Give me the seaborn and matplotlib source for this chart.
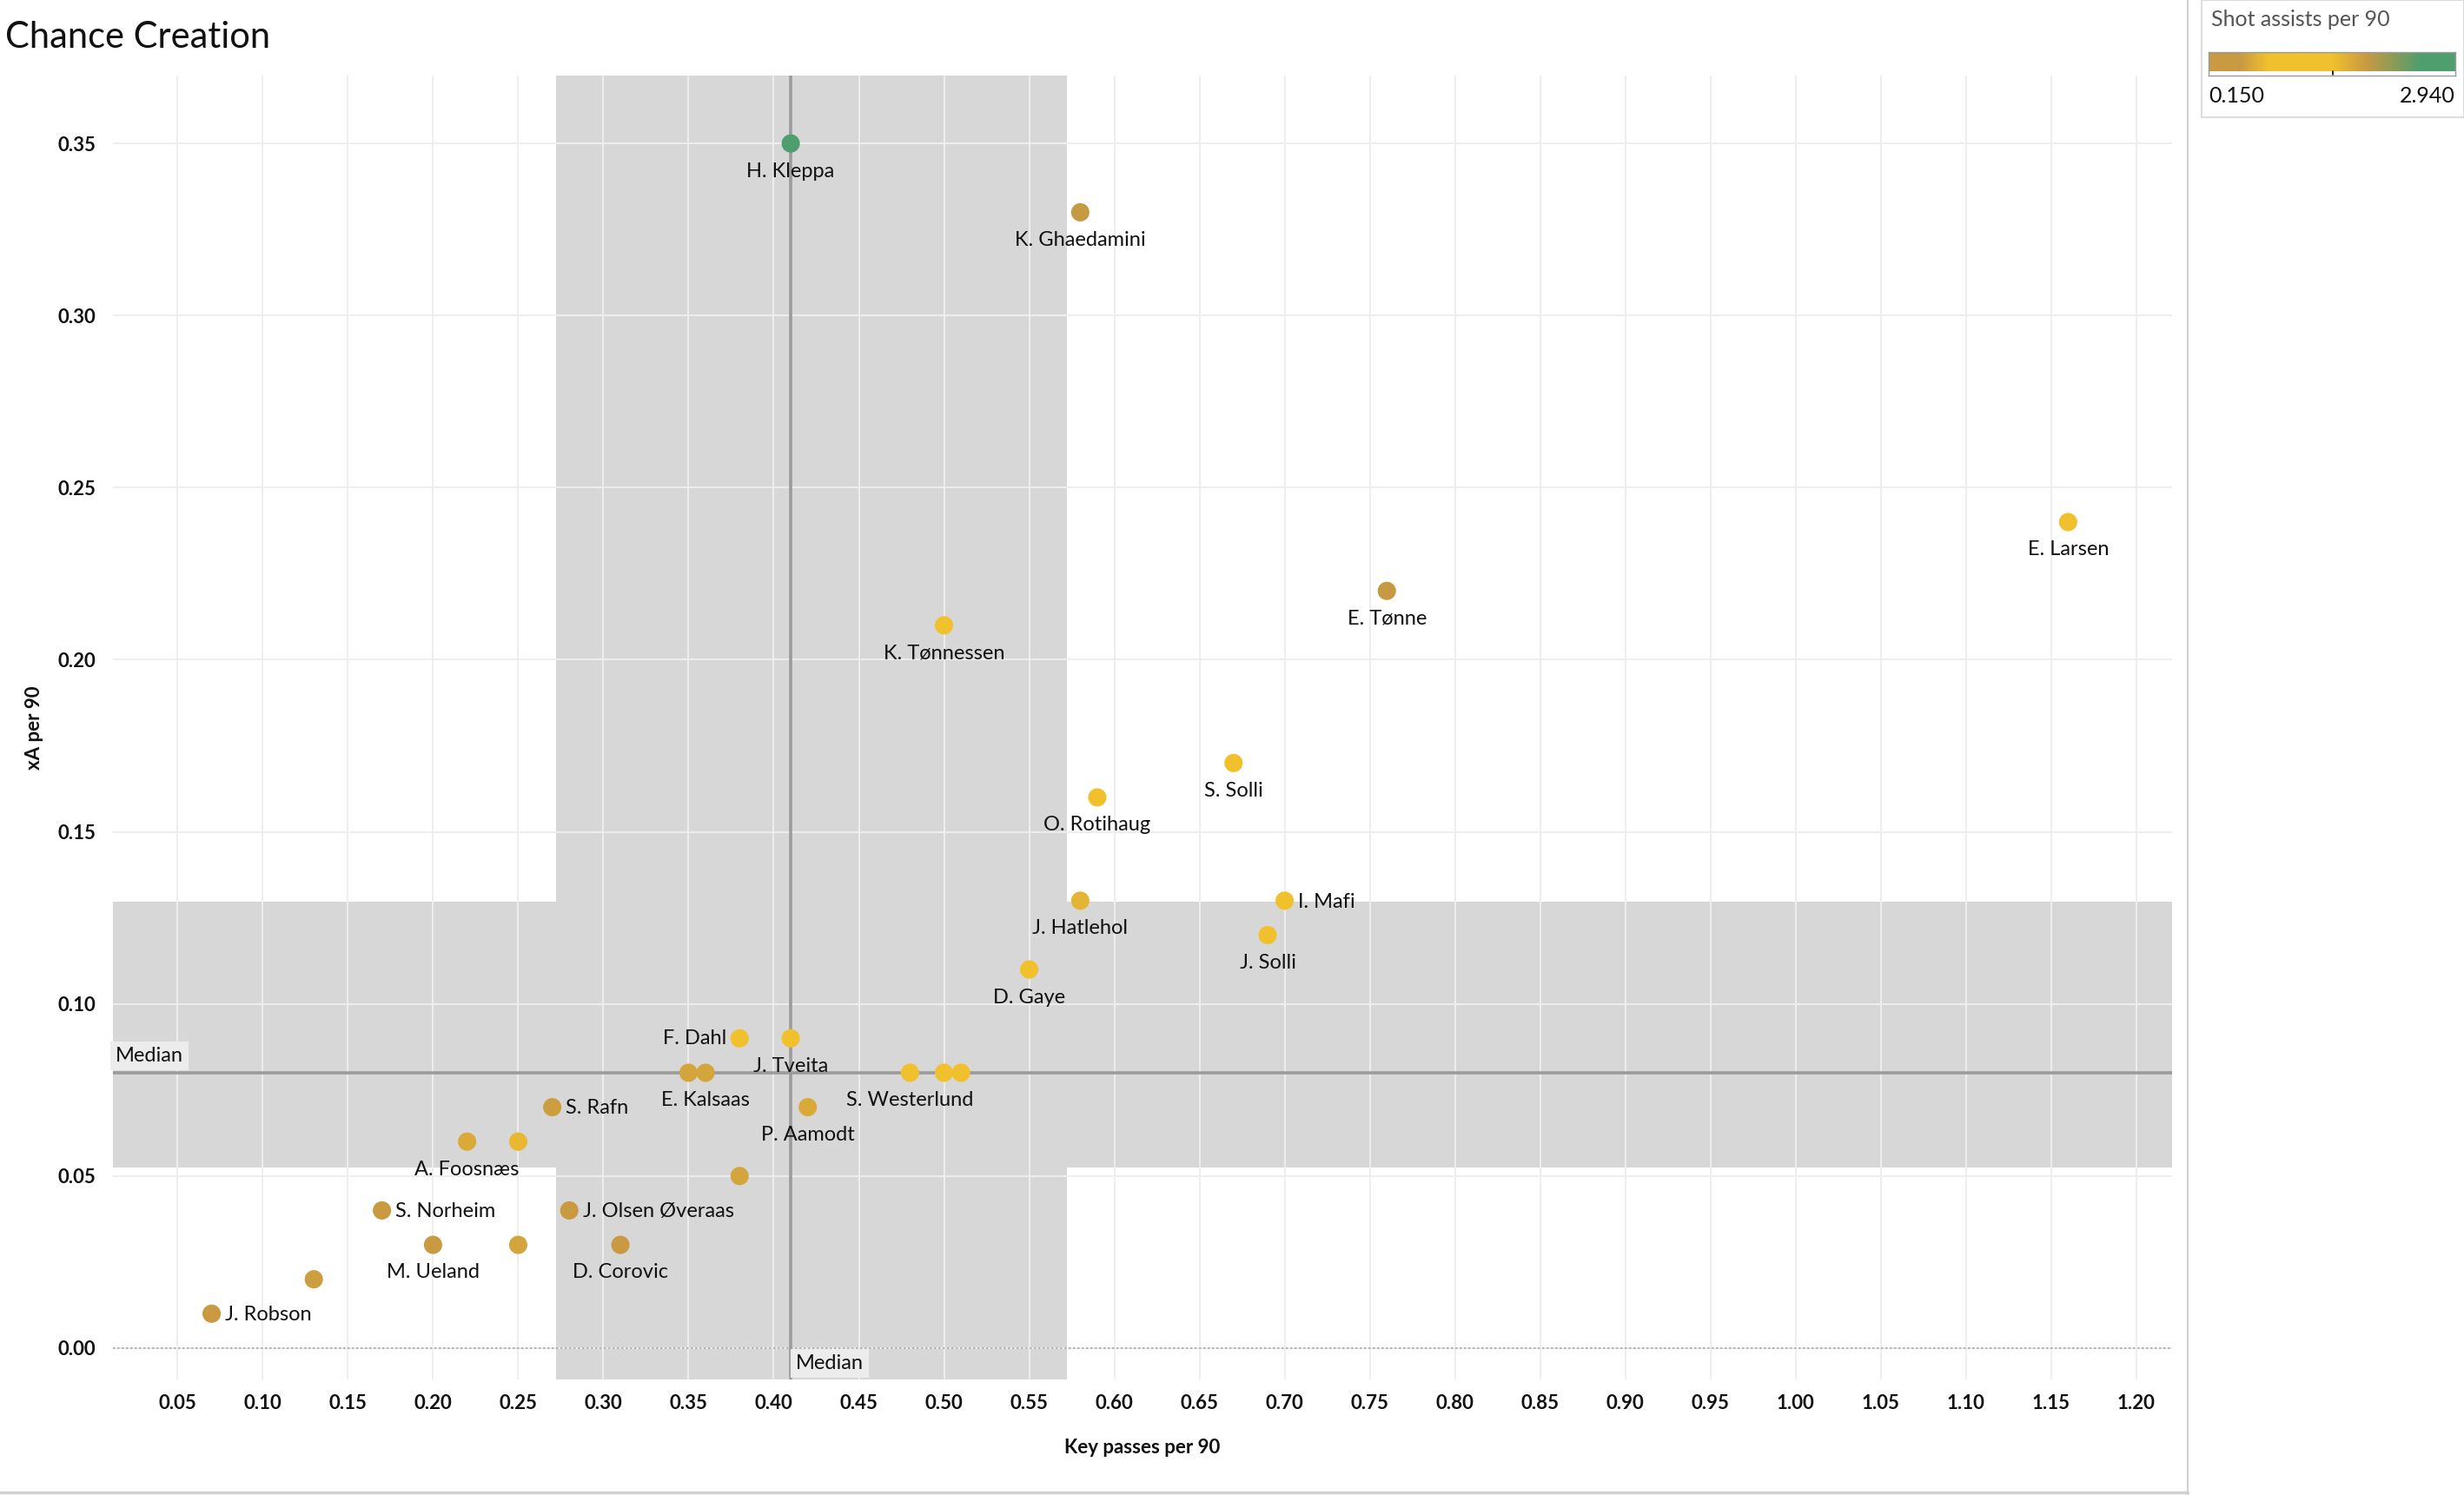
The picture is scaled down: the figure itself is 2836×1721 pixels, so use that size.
import numpy as np
import pandas as pd
import matplotlib
matplotlib.use("Agg")
import matplotlib.pyplot as plt
from matplotlib.colors import LinearSegmentedColormap
from matplotlib.lines import Line2D
from matplotlib.patches import Rectangle
import seaborn as sns

# ---------------- data ----------------
players = ["H. Kleppa", "K. Ghaedamini", "E. Larsen", "E. Tønne", "K. Tønnessen",
           "S. Solli", "O. Rotihaug", "J. Hatlehol", "I. Mafi", "J. Solli",
           "D. Gaye", "F. Dahl", "J. Tveita", "", "E. Kalsaas",
           "S. Westerlund", "", "", "S. Rafn", "P. Aamodt",
           "A. Foosnæs", "", "", "S. Norheim", "J. Olsen Øveraas",
           "M. Ueland", "", "D. Corovic", "", "J. Robson"]
key_passes = [0.41, 0.58, 1.16, 0.76, 0.50,
              0.67, 0.59, 0.58, 0.70, 0.69,
              0.55, 0.38, 0.41, 0.35, 0.36,
              0.48, 0.50, 0.51, 0.27, 0.42,
              0.22, 0.25, 0.38, 0.17, 0.28,
              0.20, 0.25, 0.31, 0.13, 0.07]
xa = [0.35, 0.33, 0.24, 0.22, 0.21,
      0.17, 0.16, 0.13, 0.13, 0.12,
      0.11, 0.09, 0.09, 0.08, 0.08,
      0.08, 0.08, 0.08, 0.07, 0.07,
      0.06, 0.06, 0.05, 0.04, 0.04,
      0.03, 0.03, 0.03, 0.02, 0.01]
shot_assists = [2.94, 1.95, 1.45, 1.95, 1.30,
                1.40, 1.20, 0.72, 1.30, 1.25,
                1.10, 1.00, 1.15, 0.60, 0.60,
                1.00, 1.10, 1.05, 0.55, 0.65,
                0.65, 0.75, 0.60, 0.35, 0.40,
                0.40, 0.60, 0.45, 0.55, 0.50]
x_ticks = [0.05, 0.10, 0.15, 0.20, 0.25, 0.30, 0.35, 0.40, 0.45, 0.50, 0.55, 0.60,
           0.65, 0.70, 0.75, 0.80, 0.85, 0.90, 0.95, 1.00, 1.05, 1.10, 1.15, 1.20]
y_ticks = [0.00, 0.05, 0.10, 0.15, 0.20, 0.25, 0.30, 0.35]
median_x = 0.41
median_y = 0.08
band_x = (0.272, 0.572)
band_y = (0.0525, 0.1296)
sa_min, sa_max = 0.150, 2.940

df = pd.DataFrame({"player": players, "kp": key_passes, "xa": xa, "sa": shot_assists})

# label placement (style)
label_side = {"S. Rafn": "right", "S. Norheim": "right", "J. Olsen Øveraas": "right",
              "J. Robson": "right", "I. Mafi": "right", "F. Dahl": "left"}

# ---------------- style ----------------
BROWN = "#c99a42"
YELLOW = "#f1c12d"
GREEN = "#4f9e6e"
cmap = LinearSegmentedColormap.from_list(
    "sa", [(0.0, BROWN), (0.13, BROWN), (0.24, YELLOW), (0.5, YELLOW),
           (0.64, BROWN), (0.86, GREEN), (1.0, GREEN)])

sns.set_theme(style="white")
plt.rcParams["font.family"] = ["Lato", "DejaVu Sans"]

fig = plt.figure(figsize=(28.36, 17.21), dpi=100)
ax = fig.add_axes([0.0458, 0.0773, 0.8357, 0.8721])

ax.set_xlim(0.012, 1.221)
ax.set_ylim(-0.0091, 0.3697)

# bands
ax.axvspan(band_x[0], band_x[1], color="#d7d7d7", zorder=0.1, lw=0)
ax.axhspan(band_y[0], band_y[1], color="#d7d7d7", zorder=0.1, lw=0)

# grid
ax.set_axisbelow(True)
ax.set_xticks(x_ticks)
ax.set_yticks(y_ticks)
ax.grid(True, color="#eeeeee", lw=1.4)

# zero line
ax.axhline(0, color="#aaaaaa", lw=1.2, ls=(0, (1.5, 1.5)), zorder=0.6)

# median lines
ax.axvline(median_x, color="#9b9b9b", lw=2.6, zorder=0.7)
ax.axhline(median_y, color="#9b9b9b", lw=2.6, zorder=0.7)

sns.scatterplot(data=df, x="kp", y="xa", hue="sa", palette=cmap,
                hue_norm=(sa_min, sa_max), s=230, edgecolor="none",
                legend=False, ax=ax, zorder=3)

# point labels
LBL = 17
for name, x, y in zip(players, key_passes, xa):
    if not name:
        continue
    side = label_side.get(name, "below")
    if side == "below":
        ax.annotate(name, (x, y), xytext=(0, -23), textcoords="offset points",
                    ha="center", va="center", fontsize=LBL, color="#111111", zorder=4)
    elif side == "right":
        ax.annotate(name, (x, y), xytext=(11, -1), textcoords="offset points",
                    ha="left", va="center", fontsize=LBL, color="#111111", zorder=4)
    else:
        ax.annotate(name, (x, y), xytext=(-11, 0), textcoords="offset points",
                    ha="right", va="center", fontsize=LBL, color="#111111", zorder=4)

# median labels
ax.text(0.0135, median_y + 0.0022, "Median", ha="left", va="bottom", fontsize=LBL,
        color="#111111", zorder=5,
        bbox=dict(boxstyle="square,pad=0.25", fc="#ececec", ec="none"))
ax.text(median_x + 0.003, -0.0045, "Median", ha="left", va="center", fontsize=LBL,
        color="#111111", zorder=5,
        bbox=dict(boxstyle="square,pad=0.25", fc="#ececec", ec="none"))

# ticks and labels
ax.xaxis.set_major_formatter(matplotlib.ticker.FormatStrFormatter("%.2f"))
ax.yaxis.set_major_formatter(matplotlib.ticker.FormatStrFormatter("%.2f"))
ax.tick_params(axis="x", labelsize=16, length=0, pad=12, labelcolor="#111111")
ax.tick_params(axis="y", labelsize=16, length=0, pad=14, labelcolor="#111111")
for lab in ax.get_xticklabels() + ax.get_yticklabels():
    lab.set_fontweight("bold")
ax.set_xlabel("Key passes per 90", fontsize=16, fontweight="bold", labelpad=22, color="#111111")
ax.set_ylabel("xA per 90", fontsize=16, fontweight="bold", labelpad=12, color="#111111")
for sp in ax.spines.values():
    sp.set_visible(False)

# title
fig.text(0.002, 0.975, "Chance Creation", ha="left", va="center", fontsize=30,
         fontweight="normal", color="#111111")

# frame lines
fig.add_artist(Line2D([0.888, 0.888], [0.0, 1.0], color="#d0d0d0", lw=1.5))
fig.add_artist(Line2D([0.0, 0.888], [0.002, 0.002], color="#d0d0d0", lw=2.5))
fig.add_artist(Rectangle((0.8935, 0.9215), 0.1065, 0.0785, transform=fig.transFigure,
                         fc="none", ec="#dddddd", lw=1.5))

# colour legend
fig.text(0.8975, 0.987, "Shot assists per 90", ha="left", va="center", fontsize=18,
         color="#555555")
cax = fig.add_axes([0.8963, 0.9494, 0.1001, 0.0157])
grad = np.linspace(0, 1, 512).reshape(1, -1)
cax.imshow(grad, aspect="auto", cmap=cmap, extent=(0, 1, 0, 1))
cax.set_xticks([])
cax.set_yticks([])
for sp in cax.spines.values():
    sp.set_color("#999999")
    sp.set_linewidth(1)
cax.plot([0.505, 0.505], [0, -0.15], color="black", lw=1.2, clip_on=False)
fig.text(0.8963, 0.936, f"{sa_min:.3f}", ha="left", va="center", fontsize=18, color="#111111")
fig.text(0.9964, 0.936, f"{sa_max:.3f}", ha="right", va="center", fontsize=18, color="#111111")

fig.savefig("out.png", dpi=100)
